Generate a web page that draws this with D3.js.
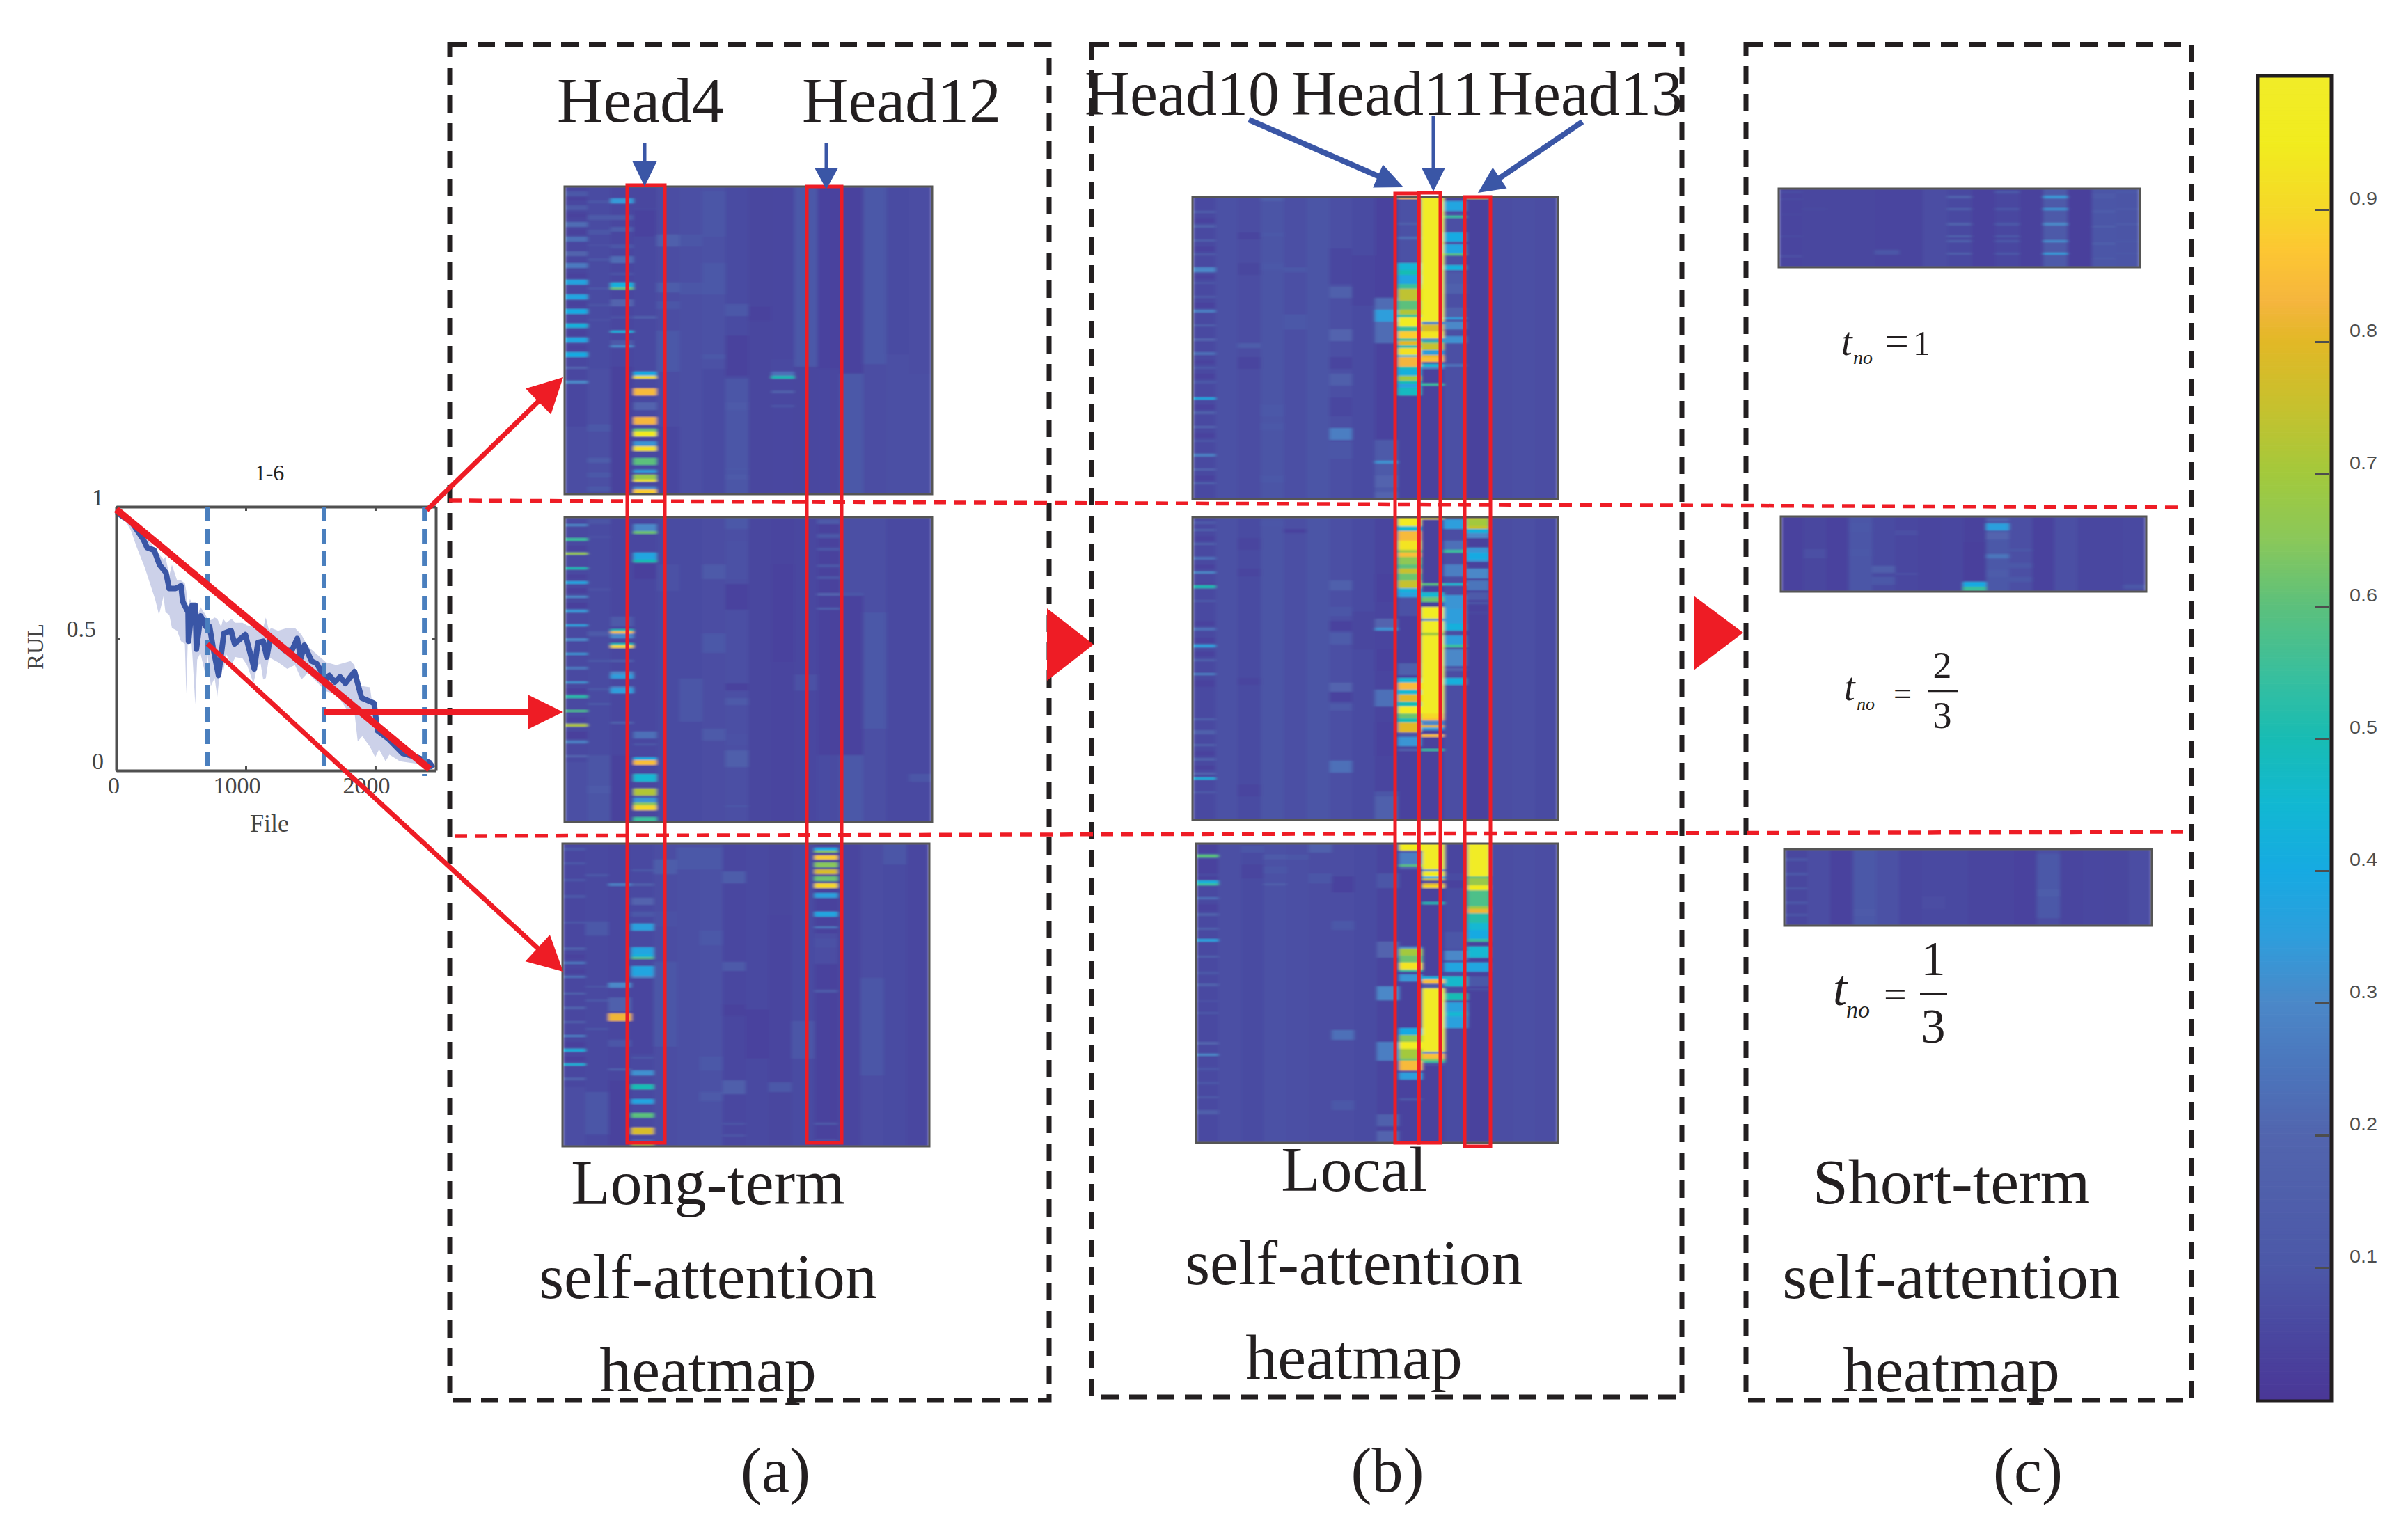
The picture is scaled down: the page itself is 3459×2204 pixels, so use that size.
<!DOCTYPE html>
<html><head><meta charset="utf-8">
<style>html,body{margin:0;padding:0;background:#fff}svg{display:block}</style>
<script src="https://cdn.jsdelivr.net/npm/d3@7/dist/d3.min.js"></script></head>
<body><svg id="c" width="3459" height="2204" xmlns="http://www.w3.org/2000/svg"></svg>
<script>
// ---- RUL curve (File, RUL)
const fileX=[0,58,113,155,210,238,293,334,384,409,458,500,514,555,558,586,610,619,652,693,721,748,790,831,887,914,997,1066,1094,1135,1163,1190,1301,1356,1398,1425,1453,1508,1549,1618,1646,1688,1729,1770,1840,1895,1991,2019,2102,2212,2323,2420,2447];
const rulMean=[.98,.96,.945,.915,.875,.845,.835,.78,.75,.69,.69,.70,.64,.60,.49,.626,.626,.46,.586,.545,.545,.465,.36,.52,.53,.48,.515,.385,.485,.49,.43,.505,.455,.455,.50,.425,.475,.415,.405,.345,.36,.335,.355,.33,.375,.275,.255,.15,.12,.065,.05,.03,.01];
const bandX=[0,60,113,155,220,300,330,365,380,410,430,470,500,530,541,553,569,590,610,625,650,690,705,730,760,780,810,825,850,890,920,975,1010,1060,1090,1115,1135,1155,1180,1195,1250,1320,1380,1430,1480,1620,1700,1810,1840,1865,1900,1960,2000,2030,2080,2110,2190,2330,2447];
const bandLow=[.97,.955,.91,.85,.77,.65,.59,.66,.60,.59,.54,.53,.49,.48,.29,.50,.58,.42,.25,.42,.445,.36,.44,.32,.35,.28,.42,.37,.44,.40,.43,.425,.40,.33,.40,.405,.345,.35,.43,.425,.41,.385,.40,.345,.37,.30,.29,.21,.22,.11,.13,.09,.05,.08,.035,.06,.035,.025,.005];
const bandHigh=[.985,.97,.96,.93,.89,.84,.82,.80,.81,.74,.78,.72,.72,.71,.68,.62,.65,.63,.63,.58,.62,.59,.575,.57,.58,.575,.545,.575,.56,.575,.56,.56,.55,.545,.54,.54,.54,.58,.53,.54,.53,.54,.54,.515,.47,.41,.40,.415,.40,.32,.32,.315,.17,.16,.14,.11,.09,.05,.015];
const idealX=[0,2420], idealY=[.99,.005];
const splitFiles=[705,1605,2380];
const plotXTicks=[0,1000,2000], plotYTicks=[0,.5,1];

// ---- colour map
const cmapStops=[0,.05,.1,.2,.25,.3,.35,.4,.45,.5,.55,.6,.65,.7,.75,.8,.83,.87,.9,.95,1];
const cmapColors=['#4a3797','#4a47a0','#4c58a8','#5265ae','#4b75bc','#4b88c8','#2e9edc','#16aae2','#12b8d2','#18bcb4','#3abf9c','#5cc07c','#8ac85a','#a3c93c','#c6c12e','#e2b826','#f5b53e','#fdc732','#f5d828','#f1ec1e','#f1ec28'];
const barTicks=[.1,.2,.3,.4,.5,.6,.7,.8,.9];

// ---- heatmaps: column base levels, then [column, firstRow, lastRow, value]
const a1Base=[.05,.07,.05,.06,.08,.09,.1,.07,.04,.05,.13,.02,.02,.14,.07,.08];
const a1Bands=[[0,2,3,.14],[0,8,9,.15],[0,15,16,.24],[0,21,22,.25],[0,27,28,.21],[0,32,33,.27],[0,39,40,.37],[0,45,46,.38],[0,51,52,.4],[0,57,58,.42],[0,63,64,.38],[0,69,70,.4],[0,75,75,.22],[0,81,81,.3],[0,4,5,.01],[0,11,12,.01],[0,18,19,.01],[0,36,37,.01],[0,48,49,.01],[0,60,61,.01],[0,66,67,.01],[0,84,100,.05],[0,100,127,.08],
[1,6,6,.12],[1,12,13,.15],[1,18,19,.12],[1,24,24,.1],[1,30,30,.12],[1,42,42,.12],[1,49,49,.11],[1,55,55,.1],[1,76,127,.09],[1,99,101,.13],[1,113,114,.17],[1,119,120,.13],[1,125,126,.13],
[2,5,6,.34],[2,12,13,.15],[2,17,18,.17],[2,24,25,.12],[2,29,31,.24],[2,36,36,.12],[2,40,41,.42],[2,42,42,.62],[2,47,49,.22],[2,54,54,.1],[2,60,60,.42],[2,64,65,.15],[2,66,66,.3],[2,75,127,.01],
[3,54,54,.18],[3,77,78,.4],[3,79,79,.92],[3,84,86,.84],[3,90,92,.22],[3,96,98,.83],[3,101,101,.62],[3,102,103,.95],[3,106,107,.33],[3,108,109,.92],[3,113,115,.6],[3,118,118,.35],[3,120,121,.68],[3,122,122,.93],[3,125,125,.3],[3,126,127,.88],[3,0,8,.04],[3,10,20,.02],
[4,20,24,.2],[4,40,43,.17],[4,48,50,.12],[4,60,76,.14],[4,100,127,.05],[5,20,24,.12],[5,40,44,.12],[6,2,20,.12],[6,32,44,.13],[6,70,71,.13],[6,76,127,.07],
[7,49,53,.14],[7,62,78,.01],[7,80,127,.12],[7,90,92,.15],[7,117,117,.14],[7,120,121,.15],[9,73,73,.28],[9,72,76,.06],[9,77,78,.25],[9,79,79,.5],[9,85,85,.18],[9,91,91,.12],[8,50,55,.01],
[10,75,127,.04],[11,110,111,.12],[11,115,115,.2],[11,76,127,.05],[12,78,127,.13],[12,80,80,.14],[13,74,127,.08],[14,70,127,.09],[15,78,127,.09]];
const a2Base=[.06,.07,.05,.05,.07,.07,.08,.09,.04,.03,.05,.01,.02,.09,.06,.06];
const a2Bands=[[0,3,3,.3],[0,9,9,.55],[0,15,15,.68],[0,21,21,.5],[0,27,27,.38],[0,33,33,.3],[0,39,39,.33],[0,45,45,.36],[0,51,51,.3],[0,57,57,.33],[0,63,63,.26],[0,69,69,.32],[0,75,75,.52],[0,81,81,.58],[0,87,87,.72],[0,94,94,.28],[0,100,100,.22],[0,12,13,.01],[0,24,25,.01],[0,30,31,.0],[0,36,37,.0],[0,72,73,.0],[0,84,85,.01],[0,90,92,.0],[0,103,127,.09],
[1,1,2,.11],[1,8,8,.1],[1,30,30,.1],[1,48,49,.15],[1,60,60,.13],[1,72,72,.13],[1,78,78,.13],[1,100,127,.11],[1,113,115,.15],
[2,42,45,.15],[2,47,47,.5],[2,48,48,.85],[2,49,50,.3],[2,53,53,.5],[2,54,54,.9],[2,60,60,.2],[2,65,65,.3],[2,66,67,.35],[2,71,71,.28],[2,72,73,.35],[2,86,86,.2],[2,100,127,.01],
[3,3,5,.3],[3,6,6,.62],[3,15,17,.38],[3,18,18,.5],[3,20,25,.0],[3,90,92,.25],[3,95,95,.12],[3,101,101,.4],[3,102,103,.85],[3,108,110,.45],[3,114,116,.72],[3,118,119,.33],[3,120,120,.65],[3,121,122,.9],[3,126,127,.55],
[4,20,30,.1],[6,20,25,.15],[6,49,56,.13],[6,89,93,.15],[7,0,4,.13],[7,10,25,.1],[7,28,38,.02],[7,70,72,.01],[7,76,78,.15],[7,91,95,.1],[7,98,104,.18],[7,121,121,.12],[5,68,85,.12],
[9,32,32,.15],[9,20,60,.02],[10,66,72,.1],[11,1,2,.15],[11,7,8,.13],[11,13,13,.12],[11,20,20,.12],[11,25,25,.12],[11,32,32,.22],[11,38,38,.2],[11,100,127,.07],[12,32,32,.13],[12,0,31,.09],[12,100,127,.14],[13,40,88,.14],[15,108,110,.12]];
const a3Base=[.05,.06,.05,.06,.08,.09,.1,.05,.06,.04,.07,.01,.03,.08,.07,.05];
const a3Bands=[[0,2,2,.14],[0,8,8,.14],[0,15,15,.13],[0,22,22,.13],[0,33,33,.12],[0,44,44,.2],[0,50,50,.27],[0,56,56,.25],[0,63,63,.2],[0,69,69,.2],[0,75,75,.18],[0,81,81,.28],[0,87,87,.42],[0,93,93,.43],[0,99,99,.2],[0,47,48,.01],[0,53,54,.01],[0,84,85,.0],[0,90,91,.0],[0,103,127,.08],
[1,13,13,.13],[1,33,38,.13],[1,60,60,.11],[1,66,66,.13],[1,78,78,.12],[1,105,122,.12],
[2,17,17,.28],[2,59,60,.3],[2,65,70,.2],[2,72,74,.82],[2,83,85,.12],[2,95,95,.2],[2,100,127,.01],
[3,11,11,.14],[3,17,17,.18],[3,23,25,.22],[3,29,30,.14],[3,34,36,.36],[3,44,46,.38],[3,47,47,.42],[3,48,48,.6],[3,52,55,.38],[3,56,56,.3],[3,90,90,.12],[3,96,97,.32],[3,102,103,.5],[3,108,109,.38],[3,114,115,.6],[3,120,122,.78],[3,125,126,.2],[3,127,127,.7],[3,57,88,.03],
[4,7,12,.17],[4,29,34,.1],[4,50,85,.12],[5,2,10,.13],[6,2,10,.13],[6,37,42,.13],[6,90,95,.13],[6,105,108,.15],[7,12,16,.17],[7,50,53,.15],[7,68,72,.01],[7,100,105,.18],[7,118,118,.11],[7,123,123,.11],[9,56,56,.14],[9,100,104,.14],[10,75,90,.12],
[11,2,2,.4],[11,3,3,.65],[11,5,6,.88],[11,8,9,.65],[11,11,12,.78],[11,14,15,.62],[11,17,18,.9],[11,21,22,.36],[11,29,30,.38],[11,35,35,.26],[11,38,50,.08],[11,40,43,.1],[11,62,62,.15],[11,118,118,.15],[11,125,125,.1],[13,57,97,.12],[14,0,8,.12],[8,70,90,.02],[9,30,100,.03]];
const b1Base=[.06,.1,.08,.11,.09,.11,.09,.07,.02,.07,.01,.09,.01,.08,.09,.08];
const b1Bands=[[0,6,6,.18],[0,12,12,.2],[0,18,18,.18],[0,24,24,.15],[0,30,31,.3],[0,36,36,.12],[0,42,42,.15],[0,48,48,.28],[0,54,54,.18],[0,60,60,.22],[0,66,66,.25],[0,72,72,.14],[0,78,78,.13],[0,85,85,.4],[0,91,91,.2],[0,97,97,.22],[0,103,103,.12],[0,109,109,.28],[0,115,115,.22],[0,121,121,.2],[0,9,10,.02],[0,21,22,.02],[0,33,34,.02],[0,45,46,.02],[0,69,70,.02],[0,75,76,.02],[0,88,89,.02],[0,100,101,.02],[0,118,119,.02],
[2,15,17,.03],[2,28,32,.04],[2,62,63,.17],[2,68,72,.03],[3,0,1,.18],[3,15,16,.14],[3,28,30,.14],[3,88,92,.14],[3,96,98,.14],[3,118,120,.13],[4,30,31,.14],[4,50,55,.13],
[6,38,42,.2],[6,22,36,.05],[6,56,60,.22],[6,68,72,.03],[6,75,79,.18],[6,85,92,.05],[6,98,102,.28],[6,104,110,.12],[7,25,45,.03],
[8,43,47,.24],[8,48,52,.35],[8,53,61,.24],[8,103,127,.15],[8,112,112,.32],[8,118,122,.22],[8,125,127,.22],
[9,0,0,.85],[9,1,30,.1],[9,11,11,.2],[9,17,17,.24],[9,28,30,.44],[9,31,32,.5],[9,33,36,.38],[9,37,38,.55],[9,39,43,.74],[9,44,47,.6],[9,48,49,.72],[9,50,50,.55],[9,51,54,.97],[9,55,56,.55],[9,57,59,.88],[9,60,60,.55],[9,61,62,.8],[9,63,63,.5],[9,64,66,.92],[9,67,67,.45],[9,68,71,.83],[9,72,72,.52],[9,73,75,.42],[9,76,77,.7],[9,78,78,.5],[9,79,80,.36],[9,81,83,.48],[9,84,127,.03],
[10,0,52,1],[10,53,53,.3],[10,54,56,.78],[10,57,59,.93],[10,60,60,.3],[10,61,61,.55],[10,62,64,.75],[10,65,66,.35],[10,67,67,.8],[10,68,69,.85],[10,70,70,.05],[10,71,71,.45],[10,72,72,.3],[10,79,79,.55],
[11,0,1,.05],[11,2,5,.38],[11,8,8,.55],[11,15,18,.4],[11,20,23,.38],[11,24,24,.6],[11,29,30,.42],[11,32,36,.15],[11,37,40,.2],[11,47,50,.2],[11,51,51,.35],[11,53,55,.3],[11,59,61,.32],[11,71,71,.25],[12,0,0,.75]];
const b2Base=[.06,.1,.07,.11,.09,.11,.09,.07,.03,.02,.01,.08,.01,.08,.09,.07];
const b2Bands=[[0,2,2,.15],[0,5,5,.2],[0,11,11,.2],[0,17,17,.25],[0,23,23,.3],[0,29,29,.5],[0,28,28,.01],[0,35,35,.15],[0,47,47,.25],[0,54,54,.35],[0,60,60,.2],[0,66,66,.28],[0,85,85,.2],[0,90,91,.2],[0,96,96,.2],[0,102,102,.2],[0,108,108,.22],[0,110,110,.42],[0,116,116,.15],[0,8,9,.02],[0,20,21,.02],[0,44,45,.02],[0,51,52,.02],[0,57,58,.02],[0,69,71,.02],[0,99,100,.02],[0,105,106,.01],
[2,9,13,.03],[2,22,24,.03],[2,68,70,.03],[2,113,117,.03],[3,2,3,.12],[4,5,6,.02],
[6,27,30,.2],[6,38,41,.12],[6,44,47,.02],[6,49,53,.16],[6,70,74,.22],[6,74,77,.02],[6,79,81,.15],[6,103,107,.25],
[7,40,55,.04],[8,24,35,.02],[8,43,46,.22],[8,47,47,.32],[8,56,64,.02],[8,73,79,.25],[8,87,100,.02],[8,116,127,.12],[8,118,127,.2],
[9,0,3,.97],[9,4,5,.45],[9,6,9,.84],[9,10,13,.93],[9,14,14,.68],[9,15,16,.85],[9,17,19,.66],[9,20,21,.6],[9,22,23,.75],[9,24,26,.62],[9,27,29,.75],[9,30,31,.42],[9,32,33,.36],[9,34,41,.1],[9,62,66,.2],[9,68,69,.45],[9,70,72,.84],[9,73,74,.45],[9,75,77,.8],[9,78,79,.5],[9,80,82,.97],[9,83,84,.62],[9,85,86,.5],[9,87,90,.8],[9,91,92,.12],[9,93,96,.33],[9,98,98,.22],
[10,0,0,.9],[10,28,28,.6],[10,32,33,.45],[10,34,35,.62],[10,38,42,.96],[10,43,43,.3],[10,44,48,1],[10,49,49,.7],[10,50,82,1],[10,83,84,.9],[10,85,85,.85],[10,86,87,.3],[10,88,88,.8],[10,89,89,.35],[10,92,92,.85],[10,98,98,.55],
[11,1,4,.35],[11,10,13,.25],[11,14,14,.55],[11,20,24,.28],[11,28,28,.45],[11,33,38,.33],[11,39,44,.35],[11,45,47,.42],[11,50,53,.35],[11,54,54,.55],[11,56,62,.3],[11,64,64,.22],[11,68,70,.42],
[12,0,0,.75],[12,1,3,.7],[12,4,4,.75],[12,5,6,.42],[12,7,8,.3],[12,13,18,.33],[12,15,17,.4],[12,22,25,.3],[12,27,30,.26],[12,32,34,.15],[12,36,36,.12],[12,40,40,.05]];
const b3Base=[.06,.09,.07,.1,.09,.08,.08,.07,.03,.02,.01,.07,.01,.08,.09,.08];
const b3Bands=[[0,0,3,.01],[0,5,5,.6],[0,16,16,.42],[0,17,17,.55],[0,14,15,.02],[0,23,23,.25],[0,30,30,.2],[0,36,36,.2],[0,41,41,.36],[0,48,48,.18],[0,55,55,.13],[0,60,60,.2],[0,67,67,.1],[0,72,72,.13],[0,85,85,.22],[0,90,90,.3],[0,96,96,.12],[0,102,102,.12],[0,108,108,.15],[0,114,115,.18],[0,7,12,.02],[0,26,28,.02],
[2,1,3,.12],[3,5,6,.15],[3,10,12,.12],[3,17,17,.18],[2,9,14,.03],[4,5,6,.12],[5,0,3,.2],[5,13,16,.12],
[6,33,36,.13],[6,80,83,.25],[6,110,113,.13],[6,14,20,.02],[8,13,18,.12],[8,42,48,.22],[8,61,66,.3],[8,85,92,.28],[8,116,120,.2],[8,123,127,.22],
[9,0,2,.95],[9,3,3,.1],[9,4,8,.28],[9,9,9,.6],[9,10,10,.2],[9,44,45,.3],[9,45,47,.7],[9,48,50,.62],[9,51,53,.93],[9,54,54,.55],[9,56,58,.33],[9,79,81,.4],[9,82,84,.66],[9,85,87,.97],[9,88,91,.7],[9,92,92,.6],[9,93,96,.84],[9,98,100,.35],[9,109,109,.15],
[10,0,10,1],[10,11,11,.3],[10,12,13,.95],[10,14,14,.4],[10,15,15,.75],[10,16,16,.02],[10,17,17,.8],[10,18,18,.9],[10,25,25,.5],[10,57,57,.42],[10,58,59,.85],[10,60,61,.15],[10,62,88,1],[10,89,89,.3],[10,90,91,.85],[10,92,92,.65],[10,93,93,.55],[10,94,94,.1],
[11,0,12,.03],[11,16,18,.02],[11,38,44,.12],[11,46,49,.3],[11,51,54,.38],[11,57,60,.46],[11,64,66,.5],[11,68,78,.36],[11,72,73,.45],
[12,0,13,1],[12,14,14,.6],[12,15,17,.68],[12,18,19,.95],[12,20,26,.58],[12,27,27,.7],[12,28,29,.82],[12,30,33,.52],[12,34,36,.45],[12,37,40,.4],[12,41,41,.55],[12,44,48,.45],[12,51,54,.38],[12,57,60,.13],[12,62,62,.1]];
const c1Base=[.03,.04,.04,.04,.03,.03,.08,.06,.02,.05,.01,.15,.0,.12,.11];
const c1Bands=[[0,1,1,.07],[0,4,4,.07],[0,10,10,.05],[0,19,19,.07],[0,27,27,.08],[1,8,8,.07],[4,25,26,.12],[7,3,3,.2],[7,8,8,.19],[7,14,14,.2],[7,19,19,.2],[7,21,21,.2],[7,26,26,.18],[9,1,1,.14],[9,8,8,.14],[9,14,14,.14],[9,19,19,.14],[9,21,21,.14],[9,26,26,.14],
[11,3,3,.33],[11,8,8,.33],[11,14,14,.3],[11,21,21,.31],[11,26,26,.34],[13,2,3,.15],[13,9,9,.16],[13,15,15,.18],[13,22,22,.17],[13,28,28,.15],[14,1,1,.13],[14,8,8,.15],[14,14,14,.15],[14,21,21,.14],[14,26,26,.14]];
const c2Base=[.02,.04,.02,.12,.07,.05,.03,.05,.0,.13,.09,.02,.09,.05,.05,.06];
const c2Bands=[[1,14,17,.09],[3,3,6,.14],[3,14,16,.14],[4,21,23,.18],[4,26,28,.14],[5,6,7,.09],[5,24,24,.09],[8,28,29,.4],[8,30,31,.55],[8,0,10,.01],[9,1,1,.22],[9,3,5,.36],[9,7,9,.22],[9,16,17,.26],[9,23,25,.16],[10,14,14,.13],[10,20,21,.13],[10,26,27,.14],[15,29,30,.13]];
const c3Base=[.04,.08,.02,.13,.1,.05,.06,.06,.03,.03,.02,.14,.03,.05,.04,.08];
const c3Bands=[[0,4,4,.12],[0,10,10,.12],[0,16,16,.12],[0,22,22,.12],[0,27,27,.12],[3,25,27,.15],[11,0,1,.09],[11,17,19,.17],[11,29,31,.08],[6,20,24,.08]];
const heatRows=[128,128,128,128,128,128,32,32,32];

// ---- text
const headLabels=['Head4','Head12','Head10','Head11','Head13'];
const panelCaptions=[['Long-term','self-attention','heatmap'],['Local','self-attention','heatmap'],['Short-term','self-attention','heatmap']];
const panelTags=['(a)','(b)','(c)'];

const svg=d3.select('#c');
const SERIF='"Liberation Serif",serif', INK='#231f20';
const RED='#ee1c25', BLUE='#3a56a6';

// ---------- small RUL plot
const px=d3.scaleLinear().domain([0,2468]).range([167,626]);
const py=d3.scaleLinear().domain([0,1]).range([1107,728]);
const gp=svg.append('g');
gp.append('path').attr('fill','#ccd1e9').attr('d',d3.area().x((d,i)=>px(bandX[i])).y0((d,i)=>py(bandLow[i])).y1((d,i)=>py(bandHigh[i]))(bandX));
gp.append('path').attr('fill','none').attr('stroke',BLUE).attr('stroke-width',8).attr('stroke-linejoin','round').attr('d',d3.line().x((d,i)=>px(fileX[i])).y((d,i)=>py(rulMean[i]))(fileX));
const axB=gp.append('g').attr('transform','translate(0,1107)').call(d3.axisBottom(px).tickValues(plotXTicks).tickSize(-6).tickSizeOuter(0).tickFormat(d3.format('d')));
const axT=gp.append('g').attr('transform','translate(0,728)').call(d3.axisTop(px).tickValues(plotXTicks.slice(1)).tickSize(-6).tickSizeOuter(0).tickFormat(''));
const axL=gp.append('g').attr('transform','translate(167,0)').call(d3.axisLeft(py).tickValues(plotYTicks).tickSize(-6).tickSizeOuter(0).tickFormat(d=>d));
const axR=gp.append('g').attr('transform','translate(626,0)').call(d3.axisRight(py).tickValues([.5]).tickSize(-6).tickSizeOuter(0).tickFormat(''));
[axB,axT,axL,axR].forEach(a=>{a.select('.domain').attr('stroke','#505050').attr('stroke-width',4);a.selectAll('line').attr('stroke','#505050').attr('stroke-width',3);
  a.selectAll('text').attr('font-family',SERIF).attr('font-size',34).attr('fill','#444');});
axB.selectAll('text').attr('y',33).attr('dy',0).attr('x',d=>d===0?-4:-13);
axL.selectAll('text').attr('x',d=>d===.5?-29:-18).attr('dy','-3');
gp.append('text').attr('x',387).attr('y',690).attr('text-anchor','middle').attr('font-family',SERIF).attr('font-size',32).attr('fill','#222').text('1-6');
gp.append('text').attr('x',387).attr('y',1195).attr('text-anchor','middle').attr('font-family',SERIF).attr('font-size',36).attr('fill','#444').text('File');
gp.append('text').attr('transform','translate(62,929) rotate(-90)').attr('text-anchor','middle').attr('font-family',SERIF).attr('font-size',33).attr('fill','#444').text('RUL');
gp.selectAll('line.split').data(splitFiles).join('line').attr('x1',d=>px(d)).attr('x2',d=>px(d)).attr('y1',728).attr('y2',(d,i)=>i==2?1115:1110)
 .attr('stroke','#4a7fbe').attr('stroke-width',7).attr('stroke-dasharray','21 11');

// ---------- panels
const panels=[[646,64,861,1948],[1568,64,848,1943],[2508,64,640,1948]];
svg.selectAll('rect.panel').data(panels).join('rect').attr('x',d=>d[0]).attr('y',d=>d[1]).attr('width',d=>d[2]).attr('height',d=>d[3])
 .attr('fill','none').attr('stroke',INK).attr('stroke-width',7).attr('stroke-dasharray','25 15');

// ---------- heatmaps
const cmap=d3.scaleLinear().domain(cmapStops).range(cmapColors).clamp(true);
const heatTone=d3.scaleLinear().domain([0,.05,.1,.15,.2,.3,1]).range([.03,.05,.08,.115,.17,.3,1]);
const defs=svg.append('defs');
const flt=defs.append('filter').attr('id','soft').attr('x','-2%').attr('y','-2%').attr('width','104%').attr('height','104%');
flt.append('feGaussianBlur').attr('stdDeviation','2.6 0.9');
const boxes=[[811,268,528,442],[811,743,528,438],[808,1212,527,435],[1713,283,525,434],[1713,743,525,435],[1718,1212,520,430],[2555,271,519,113],[2558,742,525,108],[2563,1220,528,110]];
const sets=[[a1Base,a1Bands],[a2Base,a2Bands],[a3Base,a3Bands],[b1Base,b1Bands],[b2Base,b2Bands],[b3Base,b3Bands],[c1Base,c1Bands],[c2Base,c2Bands],[c3Base,c3Bands]];
sets.forEach(([base,bands],k)=>{
  const [x0,y0,w,h]=boxes[k], nRows=heatRows[k];
  const sx=d3.scaleBand().domain(d3.range(base.length)).range([x0,x0+w]);
  const sy=d3.scaleBand().domain(d3.range(nRows)).range([y0,y0+h]);
  const mat=d3.range(nRows).map(()=>base.slice());
  bands.forEach(([c,r0,r1,v])=>{for(let r=r0;r<=r1&&r<nRows;r++)mat[r][c]=v;});
  const cells=[];
  mat.forEach((row,r)=>row.forEach((v,c)=>cells.push({r,c,v})));
  const cid='clipH'+k;
  defs.append('clipPath').attr('id',cid).append('rect').attr('x',x0).attr('y',y0).attr('width',w).attr('height',h);
  const g=svg.append('g').attr('clip-path',`url(#${cid})`).append('g').attr('filter','url(#soft)');
  g.selectAll('rect').data(cells).join('rect').attr('x',d=>sx(d.c)-.3).attr('y',d=>sy(d.r)-.3).attr('width',sx.bandwidth()+.6).attr('height',sy.bandwidth()+.6)
   .attr('fill',d=>cmap(heatTone(d.v))).attr('shape-rendering','crispEdges');
  svg.append('rect').attr('x',x0).attr('y',y0).attr('width',w).attr('height',h).attr('fill','none').attr('stroke','#555').attr('stroke-width',3);
});

// ---------- colour bar
const barX=3243,barW=106;
const cy=d3.scaleLinear().domain([0,1]).range([2011,111]);
const gb=svg.append('g');
gb.selectAll('rect').data(d3.range(0,1.0001,.002)).join('rect').attr('x',barX).attr('width',barW).attr('y',d=>cy(d)-2.9).attr('height',4.5).attr('fill',d=>cmap(d));
gb.append('rect').attr('x',barX).attr('y',109).attr('width',barW).attr('height',1904).attr('fill','none').attr('stroke','#231f20').attr('stroke-width',5);
const axC=gb.append('g').attr('transform',`translate(${barX+barW},0)`).call(d3.axisRight(cy).tickValues(barTicks).tickSize(-21).tickSizeOuter(0).tickFormat(d3.format('.1f')));
axC.select('.domain').remove();
axC.selectAll('line').attr('stroke','#4d4d4d').attr('stroke-width',3).attr('transform','translate(-3,0)');
axC.selectAll('text').attr('x',26).attr('dy',-8).attr('text-anchor','start').attr('font-family','"Liberation Sans",sans-serif').attr('font-size',25).attr('fill','#4d4d4d').attr('textLength',40).attr('lengthAdjust','spacingAndGlyphs');

// ---------- overlays
function arrow(x0,y0,x1,y1,sw,hl,hw,col){
  const L=Math.hypot(x1-x0,y1-y0),ux=(x1-x0)/L,uy=(y1-y0)/L,bx=x1-ux*hl,by=y1-uy*hl;
  svg.append('line').attr('x1',x0).attr('y1',y0).attr('x2',bx+ux*2).attr('y2',by+uy*2).attr('stroke',col).attr('stroke-width',sw);
  svg.append('polygon').attr('points',[[x1,y1],[bx-uy*hw/2,by+ux*hw/2],[bx+uy*hw/2,by-ux*hw/2]].map(p=>p.join(',')).join(' ')).attr('fill',col);
}
const ideal=d3.line().x((d,i)=>px(idealX[i])).y((d,i)=>py(idealY[i]));
svg.append('path').attr('d',ideal(idealX)).attr('stroke',RED).attr('stroke-width',10).attr('fill','none');
arrow(613,733,809,542,7,50,52,RED);
arrow(466,1023,809,1023,8,51,50,RED);
arrow(298,925,809,1396,7,50,52,RED);
[[645,719,3132,729],[653,1201,3138,1195]].forEach(s=>svg.append('line').attr('x1',s[0]).attr('y1',s[1]).attr('x2',s[2]).attr('y2',s[3]).attr('stroke',RED).attr('stroke-width',5.5).attr('stroke-dasharray','18 11'));
const frames=[[901,266,955,1642],[1159,268,1209,1642],[2004,278,2038,1642],[2038,277,2069,1642],[2104,283,2141,1647]];
svg.selectAll('rect.frame').data(frames).join('rect').attr('x',d=>d[0]).attr('y',d=>d[1]).attr('width',d=>d[2]-d[0]).attr('height',d=>d[3]-d[1]).attr('fill','none').attr('stroke',RED).attr('stroke-width',5);
arrow(926,205,926,268,5,36,35,BLUE);
arrow(1187,205,1187,272,5,30,33,BLUE);
arrow(1794,172,2016,269,8,40,36,BLUE);
arrow(2059,167,2059,275,5,33,33,BLUE);
arrow(2273,175,2123,277,8,38,36,BLUE);
svg.append('polygon').attr('points','1504,874 1571,926 1504,978').attr('fill',RED);
svg.append('polygon').attr('points','2433,856 2504,909 2433,963').attr('fill',RED);

// ---------- text
const T=(x,y,s,fs,anchor='start',style='normal')=>svg.append('text').attr('x',x).attr('y',y).attr('font-family',SERIF).attr('font-size',fs).attr('font-style',style).attr('text-anchor',anchor).attr('fill',INK).text(s);
const headPos=[[800,175],[1152,175],[1558,165],[1855,165],[2137,165]];
headLabels.forEach((s,i)=>T(headPos[i][0],headPos[i][1],s,i<2?92:90));
const capX=[1017,1945,2803], capY=[[1730,1865,1999],[1711,1845,1981],[1729,1865,1999]];
panelCaptions.forEach((lines,i)=>lines.forEach((s,j)=>T(capX[i],capY[i][j],s,92,'middle')));
panelTags.forEach((s,i)=>T([1114,1993,2913][i],2143,s,90,'middle'));
// t_no expressions
T(2645,510,'t',56,'start','italic');T(2662,523,'no',28,'start','italic');T(2708,510,'=',60);T(2748,510,'1',50);
T(2649,1006,'t',56,'start','italic');T(2667,1020,'no',26,'start','italic');T(2720,1012,'=',46);T(2790,974,'2',54,'middle');T(2790,1046,'3',54,'middle');
svg.append('line').attr('x1',2769).attr('x2',2812).attr('y1',993).attr('y2',993).attr('stroke',INK).attr('stroke-width',2.5);
T(2633,1444,'t',72,'start','italic');T(2652,1462,'no',34,'start','italic');T(2706,1448,'=',58);T(2777,1401,'1',70,'middle');T(2777,1498,'3',70,'middle');
svg.append('line').attr('x1',2758).attr('x2',2797).attr('y1',1428).attr('y2',1428).attr('stroke',INK).attr('stroke-width',3);
</script></body></html>
